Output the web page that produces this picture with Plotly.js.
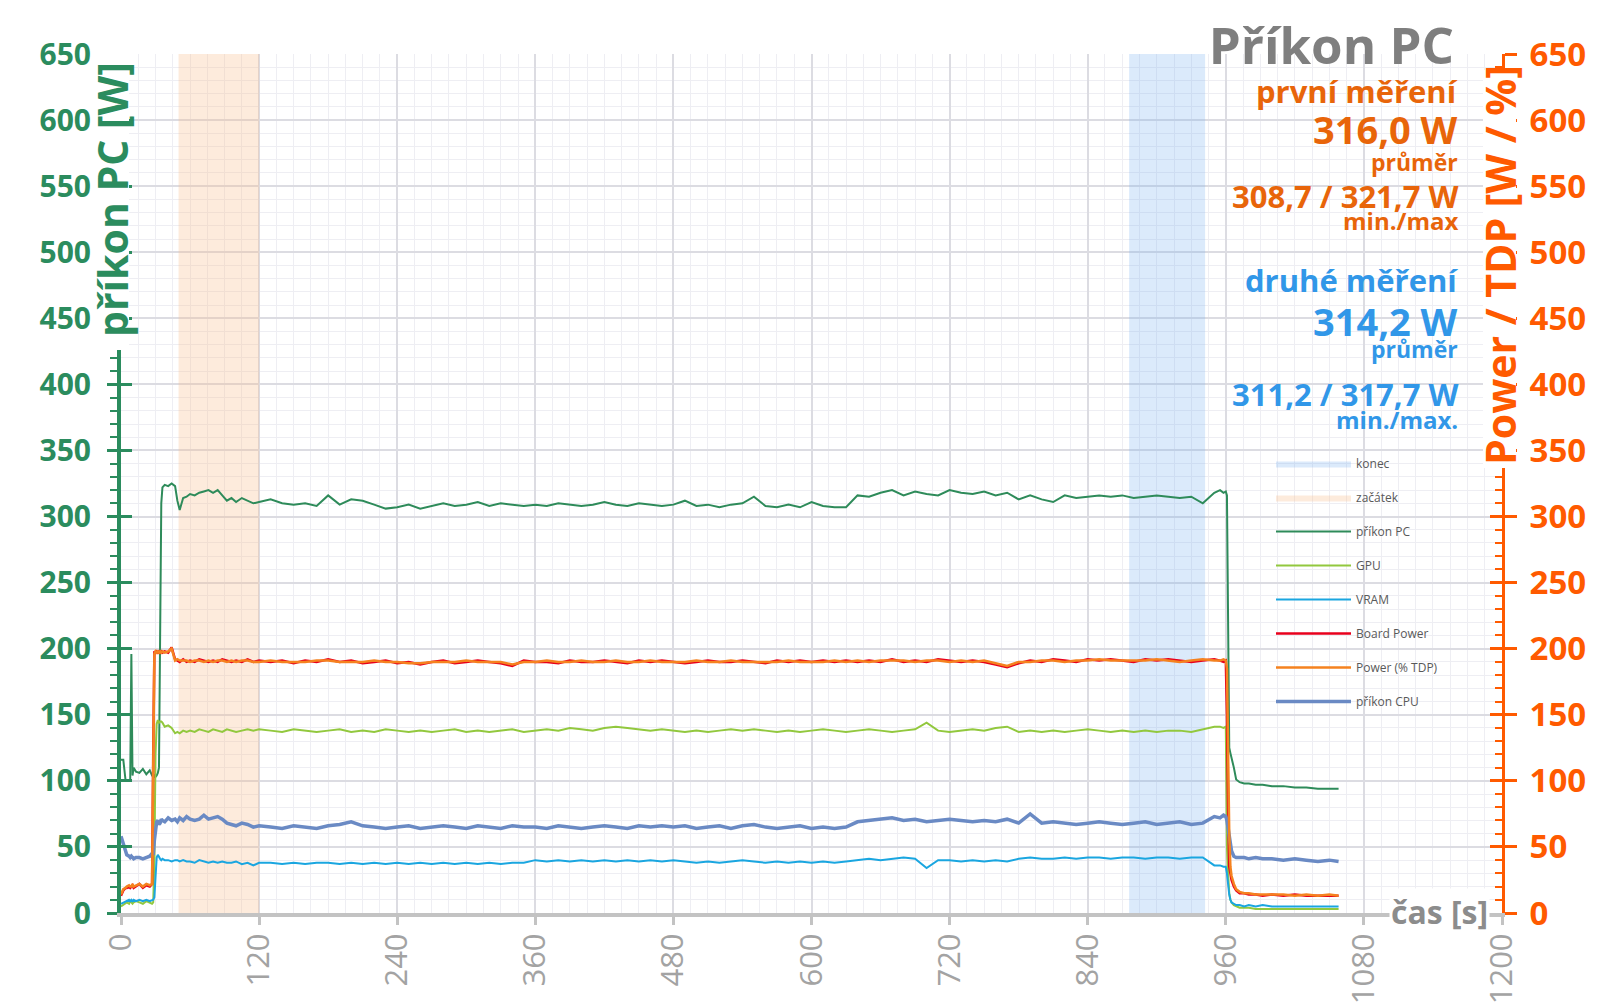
<!DOCTYPE html>
<html><head><meta charset="utf-8">
<script src="https://cdn.plot.ly/plotly-3.0.1.min.js"></script>
<style>html,body{margin:0;padding:0;background:#fff}#chart{width:1600px;height:1008px}</style>
</head><body><div id="chart"></div>
<script>
// ---------- DATA ----------
const time = [0,2,4,5,7,8,9,10,11,13,16,19,22,25,27,28,29,30,31,32,33,34,35,36,38,41,44,47,49,51,54,57,60,64,68,72,76,80,84,88,92,96,100,105,110,115,120,
130,140,150,160,170,180,190,200,210,220,
230,240,250,260,270,280,290,300,310,320,
330,340,350,360,370,380,390,400,410,420,
430,440,450,460,470,480,490,500,510,520,
530,540,550,560,570,580,590,600,610,620,
630,640,650,660,670,680,690,700,710,720,
730,740,750,760,770,780,790,800,810,820,
830,840,850,860,870,880,890,900,910,920,
930,940,950,
955,958,960,961,962,963,964,965,967,969,972,976,980,986,992,1000,1010,1020,1030,1040,1050,1058];

const prikonPC = [116,116,100,100,100,100,196,104,110,107, 106,109,105,108,104,103,104,103,104,106, 110,220,310,322,324,323,325,323,312,305, 314,315,317,316,318,319,320,318,320,316, 312,314,311,314,312,310,311,
313,310,309,310,308,316,309,313,312,309,
306,307,309,306,308,310,308,309,311,308,
310,309,308,309,308,310,309,308,309,311,
309,308,310,309,308,309,312,308,309,307,
309,310,315,308,307,309,307,311,308,307,
307,316,315,318,320,316,319,317,316,320,
318,317,319,316,318,313,316,313,311,316,
314,315,316,315,316,314,315,316,315,314,
315,310,318,
320,318,319,316,200,125,121,118,110,101, 99,98,98,97,97,96,96,95,95,94, 94,94];

const gpu = [5,6,7,8,7,9,8,7,8,9, 8,7,9,8,7,8,40,120,143,146, 144,145,145,144,141,142,140,136,137,136, 138,137,138,137,139,138,137,139,138,137, 139,138,137,138,139,138,139,
138,137,139,138,137,138,139,137,138,137,
139,138,137,138,137,138,139,137,138,137,
138,139,137,138,139,138,140,139,138,140,
141,140,139,138,139,138,137,138,137,138,
139,138,139,138,137,138,137,138,139,138,
137,138,139,138,137,138,139,144,138,137,
138,139,138,140,141,137,138,137,138,137,
138,139,138,137,138,137,138,137,138,138,
137,139,141,
141,140,141,50,30,15,10,8,6,5, 4,4,4,3,3,3,3,3,3,3, 3,3];

const vram = [7,8,9,9,10,9,10,9,10,9, 10,9,10,9,10,10,12,30,42,44, 42,41,40,41,40,40,39,40,40,39, 40,39,39,38,40,39,38,39,38,39, 38,38,39,37,38,36,38,
38,37,38,37,38,38,37,38,37,38,
37,38,37,38,37,38,37,38,37,38,
37,38,38,40,39,40,39,40,39,40,
39,40,39,40,39,40,39,38,39,38,
39,40,39,38,39,38,39,38,39,38,
39,40,41,40,41,42,41,34,40,40,
39,40,39,40,39,41,42,41,41,42,
41,42,42,41,42,42,41,42,42,41,
42,42,36,
36,35,35,30,20,14,10,8,7,6, 6,5,6,5,6,5,5,5,5,5, 5,5];

const boardPower = [13,17,19,19,20,19,20,21,19,20, 22,19,21,20,22,120,198,197,198,197, 198,197,198,197,198,197,201,192,191,190, 192,190,191,190,192,191,190,191,190,192, 191,190,191,190,192,190,191,
190,191,189,191,190,192,190,191,189,190,
191,189,190,188,190,191,189,190,191,190,
189,187,191,190,190,189,191,190,190,191,
190,189,191,190,191,190,189,190,191,190,
190,191,190,189,191,190,191,190,191,190,
191,190,191,190,192,190,191,190,192,191,
190,191,190,188,186,189,191,190,192,191,
190,192,191,192,191,190,192,191,192,191,
190,191,192,
191,190,191,150,80,35,30,25,20,17, 15,15,14,14,13,14,13,14,13,13, 13,13];

const powerTDP = [14,18,19,20,21,20,20,22,20,21, 22,20,22,21,22,110,196,198,197,198, 197,198,197,198,197,198,200,191,192,191, 191,191,190,191,191,190,191,190,191,191, 190,191,190,191,191,190,190,
191,190,190,190,191,191,190,190,190,191,
190,190,189,189,190,190,190,191,190,190,
190,188,190,190,191,190,190,191,190,190,
191,190,190,191,190,190,190,191,190,190,
191,190,190,190,190,191,190,190,190,191,
190,191,190,191,191,191,190,191,191,190,
191,190,191,189,187,190,190,191,191,190,
191,191,192,191,191,191,191,192,191,190,
191,192,191,
191,192,191,185,120,60,35,28,22,18, 16,15,15,14,14,14,14,13,14,13, 14,13];

const prikonCPU = [58,52,46,44,43,42,43,42,41,42, 42,41,42,43,45,44,55,66,69,70, 67,68,71,70,69,72,70,71,69,72, 70,73,71,70,71,74,71,72,73,71, 68,67,66,68,67,65,66,
65,64,66,65,64,66,67,69,66,65,
64,65,66,64,65,66,65,64,66,65,
64,66,65,65,64,66,65,64,65,66,
65,64,66,65,66,65,66,64,65,66,
64,66,67,65,64,65,66,64,65,64,
65,69,70,71,72,70,71,69,70,71,
70,69,70,69,71,68,75,68,69,68,
67,68,69,68,67,68,69,67,68,69,
67,68,73,
72,74,73,70,65,58,52,47,43,42, 42,42,41,42,41,41,40,41,40,39, 40,39];

// shaded ranges (seconds) and their height (W)
const zacatekRange = [50, 120];
const konecRange = [876, 942];
const bandTop = 650;

const xTicks = [0,120,240,360,480,600,720,840,960,1080,1200];

// ---------- STYLE ----------
const GREEN = '#2B8C5E', ORANGE = '#FF5A00', TXT_OR = '#E8650A', TXT_BL = '#3197E8';
const PL = 121, PR = 1502, PT = 54, PB = 913;
const px2x = p => (p - PL) / (PR - PL);
const py2y = p => (PB - p) / (PB - PT);

function band(name, r, fill, legendLine) {
  return {
    type: 'scatter', mode: 'lines', name: name, legendgroup: name,
    x: [r[0], r[0], r[1], r[1]], y: [0, bandTop, bandTop, 0], yaxis: 'y',
    fill: 'toself', fillcolor: fill, line: {width: 0, color: legendLine},
    hoverinfo: 'skip'
  };
}
function series(name, y, color, width, axis) {
  return {
    type: 'scatter', mode: 'lines', name: name, legendgroup: name,
    x: time, y: y, yaxis: axis || 'y',
    line: {color: color, width: width}
  };
}

// subplot drawing order: y, y2, y3, y4  (so orange TDP ends on top of red)
const traces = [
  band('konec', konecRange, 'rgba(110,170,240,0.25)', '#CFE2F7'),
  band('začátek', zacatekRange, 'rgba(248,190,140,0.30)', '#FBE3D2'),
  series('příkon PC', prikonPC, '#2E8B5A', 2),
  series('GPU', gpu, '#92C83E', 2),
  series('VRAM', vram, '#1AA6E0', 2),
  series('Board Power', boardPower, '#E8001C', 2.5, 'y2'),
  series('Power (% TDP)', powerTDP, '#F5821F', 2.5, 'y4'),
  series('příkon CPU', prikonCPU, '#6A8AC4', 3.5, 'y3')
];

function note(text, py, size, color) {
  return {text: text, x: px2x(1460), y: py2y(py), xref: 'paper', yref: 'paper',
    xanchor: 'right', yanchor: 'middle', showarrow: false,
    font: {size: size, color: color, weight: 'bold', family: 'Open Sans'}};
}
function whiteBox(x0, x1, y0, y1) {
  return {type: 'rect', xref: 'paper', yref: 'paper', layer: 'above',
    x0: px2x(x0), x1: px2x(x1), y0: py2y(y1), y1: py2y(y0),
    fillcolor: '#ffffff', line: {width: 0}};
}

const layout = {
  width: 1600, height: 1008,
  margin: {l: PL, r: 1600 - PR, t: PT, b: 1008 - PB, pad: 0},
  paper_bgcolor: '#ffffff', plot_bgcolor: '#ffffff',
  font: {family: 'Open Sans, sans-serif'},
  showlegend: true,
  legend: {x: px2x(1271), y: py2y(449), xanchor: 'left', yanchor: 'top',
    bgcolor: 'rgba(0,0,0,0)', font: {size: 12, color: '#595959'},
    itemwidth: 75, tracegroupgap: 15, traceorder: 'grouped'},
  title: {text: 'Příkon PC', x: 1454 / 1600, xanchor: 'right', xref: 'container',
    y: 1 - 46 / 1008, yanchor: 'middle', yref: 'container',
    font: {size: 51, color: '#7F7F7F', weight: 'bold'}},
  xaxis: {range: [0, 1200], tickvals: xTicks, tickangle: -90,
    showline: true, linecolor: '#C3C3C3', linewidth: 4,
    ticks: 'outside', ticklen: 8, tickwidth: 3, tickcolor: '#C3C3C3',
    tickfont: {size: 31, color: '#A3A3A3'}, ticklabelstandoff: -4,
    showgrid: true, gridcolor: '#DCDCE2', gridwidth: 2, zeroline: false,
    minor: {dtick: 15, showgrid: true, gridcolor: '#EEEEF3', gridwidth: 1}},
  yaxis: {range: [0, 650], dtick: 50, tick0: 0,
    showline: true, linecolor: GREEN, linewidth: 4,
    ticks: 'outside', ticklen: 10, tickwidth: 3, tickcolor: GREEN,
    tickfont: {size: 30, color: GREEN, weight: 'bold'}, ticklabelstandoff: 10,
    showgrid: true, gridcolor: '#DCDCE2', gridwidth: 2, zeroline: false,
    minor: {dtick: 10, ticks: 'outside', ticklen: 7, tickwidth: 2, tickcolor: GREEN,
      showgrid: true, gridcolor: '#EEEEF3', gridwidth: 1}},
  yaxis3: {overlaying: 'y', side: 'left', range: [0, 650], dtick: 50, tick0: 0,
    showline: false, showticklabels: false, showgrid: false, zeroline: false,
    ticks: 'inside', ticklen: 11, tickwidth: 3, tickcolor: GREEN},
  yaxis2: {overlaying: 'y', side: 'right', range: [0, 650], dtick: 50, tick0: 0,
    showline: true, linecolor: ORANGE, linewidth: 3,
    ticks: 'outside', ticklen: 12, tickwidth: 3, tickcolor: ORANGE,
    tickfont: {size: 33, color: ORANGE, weight: 'bold'}, ticklabelstandoff: 6,
    showgrid: false, zeroline: false},
  yaxis4: {overlaying: 'y', side: 'right', range: [0, 650], dtick: 50, tick0: 0,
    showline: false, showticklabels: false, showgrid: false, zeroline: false,
    ticks: 'inside', ticklen: 12, tickwidth: 3, tickcolor: ORANGE,
    minor: {dtick: 10, ticks: 'inside', ticklen: 7, tickwidth: 2, tickcolor: ORANGE, showgrid: false}},
  shapes: [
    whiteBox(99, 129, 50, 350),
    whiteBox(1483, 1516, 70, 468)
  ],
  annotations: [
    {text: 'příkon PC [W]', x: px2x(112), y: py2y(200), xref: 'paper', yref: 'paper',
      textangle: -90, showarrow: false, xanchor: 'center', yanchor: 'middle',
      font: {size: 41, color: GREEN, weight: 'bold'}},
    {text: 'Power / TDP [W / %]', x: px2x(1500), y: py2y(265), xref: 'paper', yref: 'paper',
      textangle: -90, showarrow: false, xanchor: 'center', yanchor: 'middle',
      font: {size: 41, color: ORANGE, weight: 'bold'}},
    {text: 'čas [s]', x: px2x(1490), y: py2y(911), xref: 'paper', yref: 'paper',
      xanchor: 'right', yanchor: 'middle', showarrow: false, bgcolor: '#ffffff',
      font: {size: 32, color: '#8C8C8C', weight: 'bold'}},
    note('první měření', 91, 31, TXT_OR),
    note('316,0 W', 129, 38, TXT_OR),
    note('průměr', 162, 23, TXT_OR),
    note('308,7 / 321,7 W', 196, 31, TXT_OR),
    note('min./max', 221, 24, TXT_OR),
    note('druhé měření', 280, 31, TXT_BL),
    note('314,2 W', 321, 38, TXT_BL),
    note('průměr', 349, 23, TXT_BL),
    note('311,2 / 317,7 W', 394, 31, TXT_BL),
    note('min./max.', 419, 24, TXT_BL)
  ]
};

Plotly.newPlot('chart', traces, layout, {displayModeBar: false, staticPlot: true});
</script>
</body></html>
